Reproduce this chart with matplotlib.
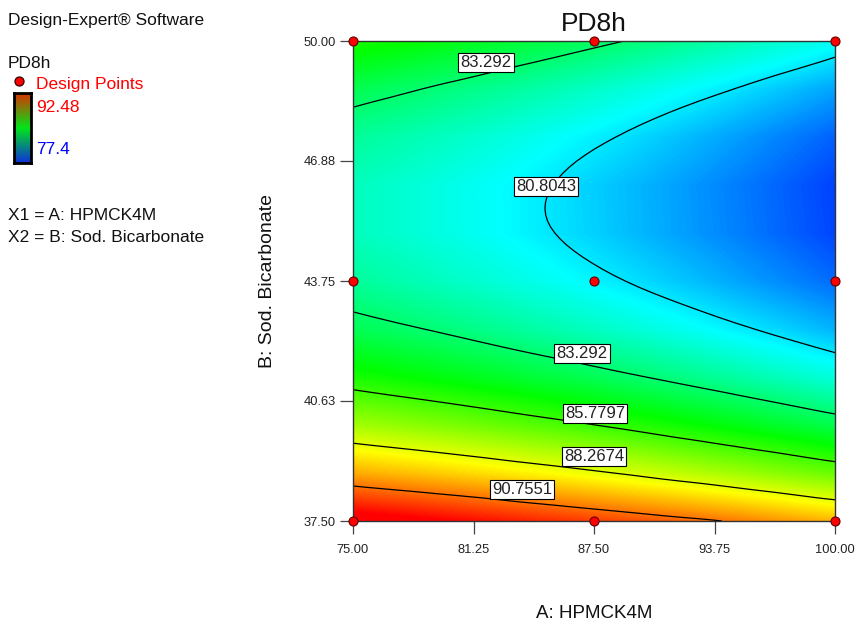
import matplotlib
matplotlib.use("Agg")
import matplotlib.pyplot as plt
import matplotlib.tri as mtri
from matplotlib.colors import LinearSegmentedColormap
import numpy as np

plt.rcParams['font.family'] = ['Liberation Sans', 'DejaVu Sans']

# factor levels of the grid
hpmc = [75.0, 77.5, 80.0, 82.5, 85.0, 87.5, 90.0, 92.5, 95.0, 97.5, 100.0]
sod_bicarb = [37.5, 38.75, 40.0, 41.25, 42.5, 43.75, 45.0, 46.25, 47.5, 48.75, 50.0]

# PD8h response, one row per Sod. Bicarbonate level
pd8h = [
    [93.06, 92.79, 92.50, 92.20, 91.88, 91.58, 91.28, 90.97, 90.62, 90.22, 89.80],
    [89.95, 89.67, 89.38, 89.07, 88.75, 88.41, 88.05, 87.68, 87.29, 86.89, 86.47],
    [87.35, 87.07, 86.78, 86.46, 86.13, 85.79, 85.43, 85.05, 84.66, 84.25, 83.82],
    [85.28, 84.99, 84.69, 84.37, 84.04, 83.69, 83.32, 82.94, 82.54, 82.12, 81.69],
    [83.72, 83.43, 83.13, 82.80, 82.46, 82.11, 81.73, 81.35, 80.94, 80.52, 80.08],
    [82.69, 82.39, 82.08, 81.75, 81.41, 81.05, 80.67, 80.28, 79.86, 79.44, 79.00],
    [82.18, 81.88, 81.56, 81.22, 80.87, 80.51, 80.12, 79.72, 79.31, 78.88, 78.43],
    [82.18, 81.88, 81.55, 81.21, 80.86, 80.48, 80.10, 79.69, 79.27, 78.83, 78.38],
    [82.71, 82.40, 82.07, 81.72, 81.36, 80.98, 80.59, 80.18, 79.75, 79.31, 78.85],
    [83.76, 83.44, 83.10, 82.75, 82.39, 82.00, 81.60, 81.19, 80.76, 80.31, 79.84],
    [85.32, 85.00, 84.66, 84.30, 83.93, 83.54, 83.14, 82.72, 82.28, 81.83, 81.36],
]

levels = [80.8043, 83.292, 85.7797, 88.2674, 90.7551]
# boxed contour labels: (A, B, text)
contour_labels = [
    (81.9, 49.45, "83.292"),
    (85.0, 46.2, "80.8043"),
    (86.88, 41.875, "83.292"),
    (87.55, 40.29, "85.7797"),
    (87.5, 39.17, "88.2674"),
    (83.77, 38.31, "90.7551"),
]

design_a = [75.0, 87.5, 100.0, 75.0, 87.5, 100.0, 75.0, 87.5, 100.0]
design_b = [50.0, 50.0, 50.0, 43.75, 43.75, 43.75, 37.5, 37.5, 37.5]

resp_low, resp_high = 77.4, 92.48

x_ticks = [75.0, 81.25, 87.5, 93.75, 100.0]
x_labels = ["75.00", "81.25", "87.50", "93.75", "100.00"]
y_ticks = [37.5, 40.63, 43.75, 46.88, 50.0]
y_labels = ["37.50", "40.63", "43.75", "46.88", "50.00"]

W, H = 856, 624
fig = plt.figure(figsize=(W / 100, H / 100), dpi=100)
ax = fig.add_axes([353 / W, 1 - 521 / H, 482 / W, 480 / H])

cmap = LinearSegmentedColormap.from_list(
    "de", [(0, 0, 1), (0, 1, 1), (0, 1, 0), (1, 1, 0), (1, 0, 0)])

z = np.array(pd8h)
da = (hpmc[1] - hpmc[0]) / 2
db = (sod_bicarb[1] - sod_bicarb[0]) / 2
ax.imshow(z, origin='lower', cmap=cmap, vmin=resp_low, vmax=resp_high,
          extent=[hpmc[0] - da, hpmc[-1] + da, sod_bicarb[0] - db, sod_bicarb[-1] + db],
          aspect='auto', interpolation='bilinear', interpolation_stage='data')

# smooth contour lines: let matplotlib refine the grid before contouring
aa, bb = np.meshgrid(hpmc, sod_bicarb)
tri = mtri.Triangulation(aa.ravel(), bb.ravel())
refiner = mtri.UniformTriRefiner(tri)
tri_fine, z_fine = refiner.refine_field(z.ravel(), subdiv=3)
ax.tricontour(tri_fine, z_fine, levels=levels, colors='black', linewidths=0.9)

for a, b, s in contour_labels:
    ax.text(a, b, s, ha='center', va='center', fontsize=12, color='#222222', zorder=5,
            bbox=dict(facecolor='white', edgecolor='black', linewidth=0.8, pad=1.5))

ax.plot(design_a, design_b, 'o', ms=6.5, mfc='#ff0000', mec='#600000', mew=0.8,
        clip_on=False, zorder=6)

ax.set_xlim(hpmc[0], hpmc[-1])
ax.set_ylim(sod_bicarb[0], sod_bicarb[-1])
ax.set_xticks(x_ticks)
ax.set_xticklabels(x_labels)
ax.set_yticks(y_ticks)
ax.set_yticklabels(y_labels)
ax.tick_params(direction='out', length=9.5, width=0.9, color='#444444',
               labelsize=9.3, labelcolor='#222222', pad=3)
ax.tick_params(axis='x', pad=7)
for sp in ax.spines.values():
    sp.set_color('#333333')
    sp.set_linewidth(1.0)

ax.set_title("PD8h", fontsize=19, pad=7, color='#111111')
ax.set_xlabel("A: HPMCK4M", fontsize=13.5, color='#111111')
ax.xaxis.set_label_coords(0.5, -0.175)
ax.set_ylabel("B: Sod. Bicarbonate", fontsize=14, color='#111111')
ax.yaxis.set_label_coords(-0.16, 0.5)

# left-hand info panel
def ftext(px, py, s, **kw):
    fig.text(px / W, 1 - py / H, s, va='center', fontsize=12.5, **kw)

ftext(8, 20, "Design-Expert® Software", color='#111111')
ftext(8, 63, "PD8h", color='#111111')
ftext(36, 85, "Design Points", color='#ff0000')
ftext(36, 108, "92.48", color='#ff0000')
ftext(36, 150, "77.4", color='#0000ff')
ftext(8, 216, "X1 = A: HPMCK4M", color='#111111')
ftext(8, 237, "X2 = B: Sod. Bicarbonate", color='#111111')
fig.lines.append(plt.Line2D([19 / W], [1 - 81 / H], marker='o', ms=6.5, mfc='#ff0000',
                            mec='#300000', mew=0.9, transform=fig.transFigure))

cax = fig.add_axes([14 / W, 1 - 163 / H, 17 / W, 70 / H])
bar_cmap = LinearSegmentedColormap.from_list(
    "bar", [(0.05, 0.2, 0.85), (0.0, 0.9, 0.1), (0.85, 0.2, 0.0)])
cax.imshow(np.linspace(0, 1, 64).reshape(-1, 1), origin='lower', cmap=bar_cmap,
           aspect='auto')
cax.set_xticks([])
cax.set_yticks([])
for sp in cax.spines.values():
    sp.set_color('black')
    sp.set_linewidth(2)

fig.savefig("out.png", dpi=100)
